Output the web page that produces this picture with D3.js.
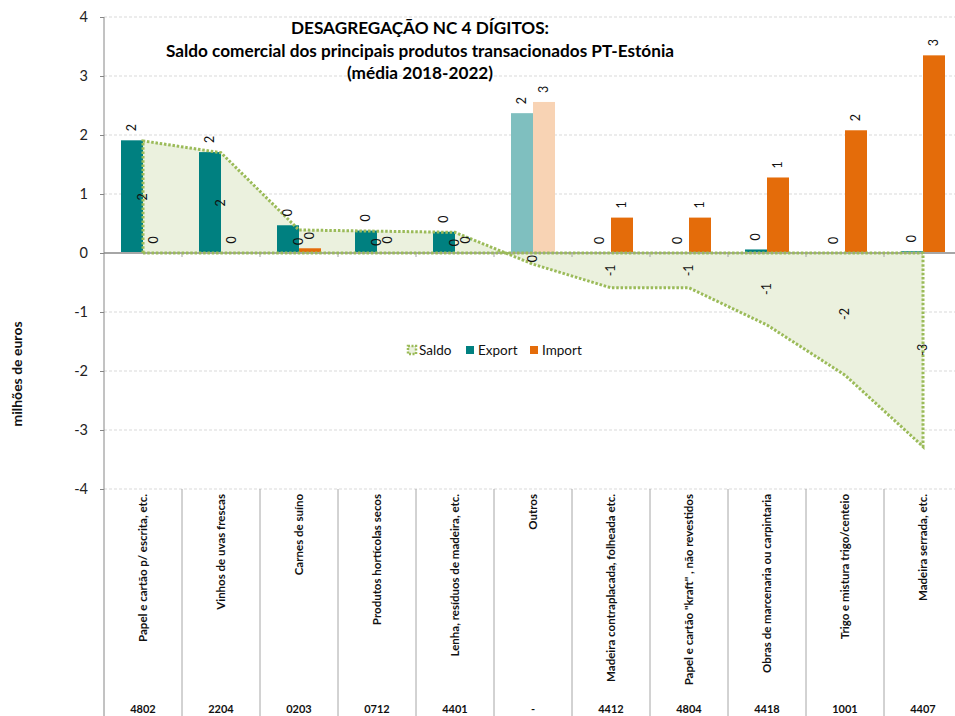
<!DOCTYPE html>
<html><head><meta charset="utf-8">
<script src="https://cdn.jsdelivr.net/npm/d3@7"></script>
<style>
body{margin:0;background:#fff;}
svg{display:block;font-family:Lato,"Open Sans",sans-serif;}
</style></head>
<body><svg id="c" width="955" height="716"></svg>
<script>
const categories = ["Papel e cartão p/ escrita, etc.","Vinhos de uvas frescas","Carnes de suíno","Produtos hortícolas secos","Lenha, resíduos de madeira, etc.","Outros","Madeira contraplacada, folheada etc.","Papel e cartão \"kraft\" , não revestidos","Obras de marcenaria ou carpintaria","Trigo e mistura trigo/centeio","Madeira serrada, etc."];
const codes = ["4802","2204","0203","0712","4401","-","4412","4804","4418","1001","4407"];
const exportVals = [1.91,1.71,0.47,0.38,0.36,2.37,0.0,0.0,0.06,0.0,0.03];
const importVals = [0.01,0.01,0.08,0.01,0.01,2.56,0.60,0.60,1.28,2.08,3.35];
const saldoVals  = [1.90,1.70,0.39,0.37,0.35,-0.19,-0.59,-0.59,-1.22,-2.07,-3.28];
const yTicks = [4,3,2,1,0,-1,-2,-3,-4];
const titleLines = ["DESAGREGAÇÃO NC 4 DÍGITOS:","Saldo comercial dos principais produtos transacionados PT-Estónia","(média 2018-2022)"];

const svg = d3.select("#c");
const pLeft = 104, pRight = 962, pTop = 17, pBottom = 489, chartBottom = 716;
const x = d3.scaleBand().domain(categories).range([pLeft, pRight]).paddingInner(0).paddingOuter(0);
const x1 = d3.scaleBand().domain(["Export","Import"]).range([0, x.bandwidth()]).paddingInner(0).paddingOuter(0.773);
const y = d3.scaleLinear().domain([-4,4]).range([pBottom, pTop]);
const cx = c => x(c) + x.bandwidth()/2;

const colors = {Export:"#008080", Import:"#E46C0A", ExportLight:"#7FBFBF", ImportLight:"#F8D3B4", saldoFill:"#EBF1DE", saldoLine:"#9BBB59"};

// gridlines
svg.append("g").selectAll("line").data(yTicks).join("line")
  .attr("x1", pLeft).attr("x2", pRight).attr("y1", d=>y(d)).attr("y2", d=>y(d))
  .attr("stroke", "#D9D9D9").attr("stroke-width", 1).attr("stroke-dasharray", "3,2");

// saldo area fill
const area = d3.area().x((d,i)=>cx(categories[i])).y0(y(0)).y1(d=>y(d));
svg.append("path").datum(saldoVals).attr("d", area).attr("fill", colors.saldoFill);

// bars
const rows = categories.map((c,i)=>({c, i, Export: exportVals[i], Import: importVals[i]}));
const bars = svg.append("g");
rows.forEach(r=>{
  ["Export","Import"].forEach(k=>{
    const v = r[k];
    const isOutros = r.c === "Outros";
    bars.append("rect")
      .attr("x", x(r.c) + x1(k)).attr("width", x1.bandwidth())
      .attr("y", y(Math.max(0,v))).attr("height", Math.abs(y(v)-y(0)))
      .attr("fill", isOutros ? colors[k+"Light"] : colors[k]);
  });
});

// x axis line at 0
svg.append("line").attr("x1", pLeft).attr("x2", pRight).attr("y1", y(0)).attr("y2", y(0))
  .attr("stroke", "#A6A6A6").attr("stroke-width", 2);
// ticks at 0
const bounds = categories.map(c=>x(c)).concat([pRight]);
svg.append("g").selectAll("line").data(bounds.slice(1)).join("line")
  .attr("x1", d=>d).attr("x2", d=>d).attr("y1", y(0)).attr("y2", y(0)+4)
  .attr("stroke", "#A6A6A6").attr("stroke-width", 1);

// saldo outline (dotted)
const line = d3.line().x(d=>d[0]).y(d=>d[1]);
const pts = saldoVals.map((v,i)=>[cx(categories[i]), y(v)]);
const outline = [[pts[0][0], y(0)], ...pts, [pts[pts.length-1][0], y(0)], [pts[0][0], y(0)]];
svg.append("path").attr("d", line(outline)).attr("fill", "none")
  .attr("stroke", colors.saldoLine).attr("stroke-width", 3).attr("stroke-dasharray", "2.5,1.8");

// y axis
svg.append("line").attr("x1", pLeft).attr("x2", pLeft).attr("y1", pTop).attr("y2", chartBottom)
  .attr("stroke", "#868686").attr("stroke-width", 1);
const yAxis = d3.axisLeft(y).tickValues(yTicks).tickFormat(d=>String(d)).tickSize(4).tickPadding(12);
const ya = svg.append("g").attr("transform", `translate(${pLeft},0)`).call(yAxis);
ya.select(".domain").remove();
ya.selectAll("line").attr("stroke", "#868686");
ya.selectAll("text").attr("font-size", 14.5).attr("fill", "#222").attr("font-family", "Lato");

// category separators below plot
svg.append("g").selectAll("line").data(bounds.slice(1)).join("line")
  .attr("x1", d=>d).attr("x2", d=>d).attr("y1", pBottom).attr("y2", chartBottom)
  .attr("stroke", "#A6A6A6").attr("stroke-width", 1);

// category labels
svg.append("g").selectAll("text").data(categories).join("text")
  .attr("transform", d=>`translate(${cx(d)+4},${pBottom+5}) rotate(-90)`)
  .attr("text-anchor", "end").attr("font-size", 11.5).attr("font-weight", 700)
  .attr("fill", "#111").text(d=>d);
svg.append("g").selectAll("text").data(codes).join("text")
  .attr("x", (d,i)=>cx(categories[i])).attr("y", 713)
  .attr("text-anchor", "middle").attr("font-size", 11).attr("font-weight", 700)
  .attr("fill", "#111").text(d=>d);

// data labels
const fmt = v => String(Math.round(v) || 0);
const lab = svg.append("g").attr("font-size", 12.5).attr("fill", "#111");
rows.forEach(r=>{
  ["Export","Import"].forEach(k=>{
    const v = r[k];
    const bx = x(r.c) + x1(k) + x1.bandwidth()/2 + 4;
    lab.append("text").attr("transform", `translate(${bx},${y(Math.max(0,v)) - 9}) rotate(-90)`)
      .attr("text-anchor", "start").text(fmt(v));
  });
});
saldoVals.forEach((v,i)=>{
  lab.append("text").attr("transform", `translate(${cx(categories[i])+4},${y(v/2)}) rotate(-90)`)
    .attr("text-anchor", "middle").text(fmt(v));
});

// title
svg.append("g").selectAll("text").data(titleLines).join("text")
  .attr("x", 420).attr("y", (d,i)=>34 + i*22.5)
  .attr("text-anchor", "middle").attr("font-size", 17.2).attr("font-weight", 700)
  .attr("fill", "#000").text(d=>d);

// y axis title
svg.append("text").attr("transform", "translate(22,374) rotate(-90)")
  .attr("text-anchor", "middle").attr("font-size", 14).attr("font-weight", 700)
  .attr("fill", "#111").text("milhões de euros");

// legend
const lg = svg.append("g").attr("font-size", 13.5).attr("fill", "#111");
lg.append("rect").attr("x", 408).attr("y", 346).attr("width", 8).attr("height", 8)
  .attr("fill", colors.saldoFill).attr("stroke", colors.saldoLine).attr("stroke-width", 2.5).attr("stroke-dasharray", "2,1.5");
lg.append("text").attr("x", 419).attr("y", 355).text("Saldo");
lg.append("rect").attr("x", 466).attr("y", 346).attr("width", 8).attr("height", 8).attr("fill", colors.Export);
lg.append("text").attr("x", 478).attr("y", 355).text("Export");
lg.append("rect").attr("x", 530).attr("y", 346).attr("width", 8).attr("height", 8).attr("fill", colors.Import);
lg.append("text").attr("x", 542).attr("y", 355).text("Import");
</script></body></html>
